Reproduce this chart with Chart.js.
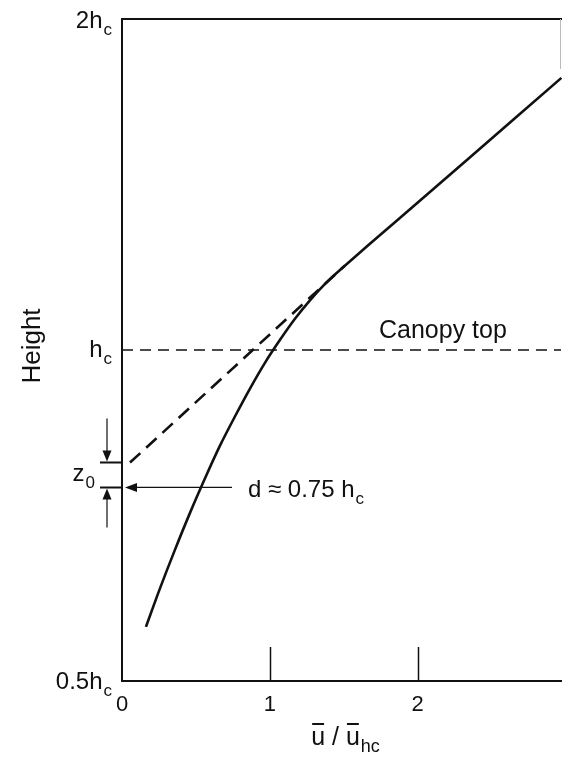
<!DOCTYPE html>
<html>
<head>
<meta charset="utf-8">
<script src="https://cdn.jsdelivr.net/npm/chart.js@4.4.1/dist/chart.umd.min.js"></script>
<style>
  html, body { margin: 0; padding: 0; background: #fff; }
  #wrap { width: 562px; height: 757px; position: relative; }
</style>
</head>
<body>
<div id="wrap"><canvas id="c"></canvas></div>
<script>
// Wind speed profile through and above a plant canopy (height on a log axis)
const profileU = [0.162, 0.257, 0.358, 0.460, 0.561, 0.662, 0.764, 0.865, 0.966, 1.068, 1.169, 1.270, 1.372, 1.473, 1.878, 2.351, 2.973];
const profileZ = [0.560, 0.607, 0.658, 0.711, 0.764, 0.818, 0.870, 0.922, 0.973, 1.021, 1.067, 1.109, 1.148, 1.182, 1.318, 1.496, 1.768];

// Logarithmic profile extrapolated down to z = d + z0
const logLawU = [0.054, 1.507];
const logLawZ = [0.79, 1.193];

const canopyTop = 1;
const dLevel = 0.75;
const z0Level = 0.79;

const xMin = 0, xMax = 2.97;
const yMin = 0.5, yMax = 2;
const xTickValues = [0, 1, 2];
const xTickLabels = ['0', '1', '2'];
const yTickValues = [2, 1, 0.5];
const yTickMain = ['2h', 'h', '0.5h'];
const yTickSub = ['c', 'c', 'c'];

const FONT = '"Liberation Sans", Arial, Helvetica, sans-serif';
const INK = '#111';

function pts(xs, ys) { return xs.map((v, i) => ({ x: v, y: ys[i] })); }

// text with a subscript part; align 'left' | 'right' | 'center'
function subText(ctx, main, sub, x, base, size, align) {
  ctx.font = size + 'px ' + FONT;
  const w1 = ctx.measureText(main).width;
  const subSize = Math.round(size * 0.72);
  ctx.font = subSize + 'px ' + FONT;
  const w2 = ctx.measureText(sub).width;
  const total = w1 + w2 + 1;
  let x0 = x;
  if (align === 'right') x0 = x - total;
  else if (align === 'center') x0 = x - total / 2;
  ctx.textAlign = 'left';
  ctx.textBaseline = 'alphabetic';
  ctx.font = size + 'px ' + FONT;
  ctx.fillText(main, x0, base);
  ctx.font = subSize + 'px ' + FONT;
  ctx.fillText(sub, x0 + w1 + 1, base + size * 0.28);
}

function arrowHead(ctx, tipX, tipY, dx, dy, len, half) {
  const bx = tipX - dx * len, by = tipY - dy * len;
  const px = -dy, py = dx;
  ctx.beginPath();
  ctx.moveTo(tipX, tipY);
  ctx.lineTo(bx + px * half, by + py * half);
  ctx.lineTo(bx - px * half, by - py * half);
  ctx.closePath();
  ctx.fill();
}

const annotate = {
  id: 'annotate',
  afterDraw(chart) {
    const { ctx, chartArea: { left, top, right, bottom }, scales: { x, y } } = chart;
    ctx.save();
    ctx.strokeStyle = INK;
    ctx.fillStyle = INK;

    // frame: left, bottom and top edges
    ctx.lineWidth = 2;
    ctx.beginPath();
    ctx.moveTo(right + 1, top); ctx.lineTo(left, top);
    ctx.lineTo(left, bottom); ctx.lineTo(right + 1, bottom);
    ctx.stroke();
    ctx.strokeStyle = '#bbb';
    ctx.lineWidth = 1;
    ctx.beginPath();
    ctx.moveTo(right - 0.5, top); ctx.lineTo(right - 0.5, top + 50);
    ctx.stroke();
    ctx.strokeStyle = INK;

    // inward x tick marks
    ctx.lineWidth = 1.5;
    xTickValues.forEach(v => {
      if (v === 0) return;
      const px = Math.round(x.getPixelForValue(v)) + 0.5;
      ctx.beginPath(); ctx.moveTo(px, bottom); ctx.lineTo(px, bottom - 34); ctx.stroke();
    });

    // x tick labels
    ctx.font = '22px ' + FONT;
    ctx.textAlign = 'center';
    ctx.textBaseline = 'alphabetic';
    xTickValues.forEach((v, i) => ctx.fillText(xTickLabels[i], x.getPixelForValue(v), bottom + 30));

    // y tick labels
    const yOffsets = [9, 7, 8];
    yTickValues.forEach((v, i) => {
      subText(ctx, yTickMain[i], yTickSub[i], left - 10, y.getPixelForValue(v) + yOffsets[i], 24, 'right');
    });

    // d and d + z0 markers on the height axis
    const yz = y.getPixelForValue(z0Level);
    const yd = y.getPixelForValue(dLevel);
    ctx.lineWidth = 2;
    ctx.beginPath();
    ctx.moveTo(left - 22, yz); ctx.lineTo(left, yz);
    ctx.moveTo(left - 22, yd); ctx.lineTo(left, yd);
    ctx.stroke();
    subText(ctx, 'z', '0', left - 27, (yz + yd) / 2 + 6, 24, 'right');

    // small arrows bracketing z0
    const ax = left - 15;
    ctx.lineWidth = 1.2;
    ctx.beginPath();
    ctx.moveTo(ax, yz - 44); ctx.lineTo(ax, yz - 8);
    ctx.moveTo(ax, yd + 40); ctx.lineTo(ax, yd + 8);
    ctx.stroke();
    arrowHead(ctx, ax, yz - 1, 0, 1, 11, 4.5);
    arrowHead(ctx, ax, yd + 1, 0, -1, 11, 4.5);

    // arrow pointing at d
    ctx.beginPath();
    ctx.moveTo(left + 110, yd); ctx.lineTo(left + 12, yd);
    ctx.stroke();
    arrowHead(ctx, left + 3, yd, -1, 0, 12, 4.5);
    subText(ctx, 'd \u2248 0.75 h', 'c', left + 126, yd + 10, 24, 'left');

    // canopy top label
    ctx.font = '25px ' + FONT;
    ctx.textAlign = 'left';
    ctx.fillText('Canopy top', 379, y.getPixelForValue(canopyTop) - 12);

    // axis titles
    ctx.save();
    ctx.translate(33, 346);
    ctx.rotate(-Math.PI / 2);
    ctx.font = '26px ' + FONT;
    ctx.textAlign = 'center';
    ctx.textBaseline = 'middle';
    ctx.fillText('Height', 0, 0);
    ctx.restore();

    // x title: u-bar / u-bar_hc
    const tb = bottom + 64;
    ctx.font = '25px ' + FONT;
    const wu = ctx.measureText('u').width;
    const ws = ctx.measureText(' / ').width;
    ctx.font = '18px ' + FONT;
    const wh = ctx.measureText('hc').width;
    let tx = 345 - (wu * 2 + ws + wh) / 2;
    ctx.textAlign = 'left';
    ctx.font = '25px ' + FONT;
    ctx.fillText('u', tx, tb);
    ctx.lineWidth = 2;
    ctx.beginPath(); ctx.moveTo(tx + 1, tb - 21); ctx.lineTo(tx + wu - 1, tb - 21); ctx.stroke();
    tx += wu;
    ctx.fillText(' / ', tx, tb);
    tx += ws;
    ctx.fillText('u', tx, tb);
    ctx.beginPath(); ctx.moveTo(tx + 1, tb - 21); ctx.lineTo(tx + wu - 1, tb - 21); ctx.stroke();
    tx += wu;
    ctx.font = '18px ' + FONT;
    ctx.fillText('hc', tx + 1, tb + 7);

    ctx.restore();
  }
};

new Chart(document.getElementById('c'), {
  type: 'line',
  data: {
    datasets: [
      {
        label: 'Canopy top',
        data: pts([xMin, xMax], [canopyTop, canopyTop]),
        borderColor: INK, borderWidth: 1.6, borderDash: [11, 7],
        pointRadius: 0, tension: 0
      },
      {
        label: 'Log profile',
        data: pts(logLawU, logLawZ),
        borderColor: INK, borderWidth: 2.6, borderDash: [14, 8],
        pointRadius: 0, tension: 0
      },
      {
        label: 'Wind profile',
        data: pts(profileU, profileZ),
        borderColor: INK, borderWidth: 2.6,
        pointRadius: 0, tension: 0.3
      }
    ]
  },
  options: {
    responsive: true,
    maintainAspectRatio: false,
    animation: false,
    parsing: false,
    clip: false,
    layout: { padding: { left: 122, right: 1, top: 19, bottom: 76 } },
    plugins: { legend: { display: false }, tooltip: { enabled: false } },
    scales: {
      x: { type: 'linear', min: xMin, max: xMax, display: false },
      y: { type: 'logarithmic', min: yMin, max: yMax, display: false }
    }
  },
  plugins: [annotate]
});
</script>
</body>
</html>
